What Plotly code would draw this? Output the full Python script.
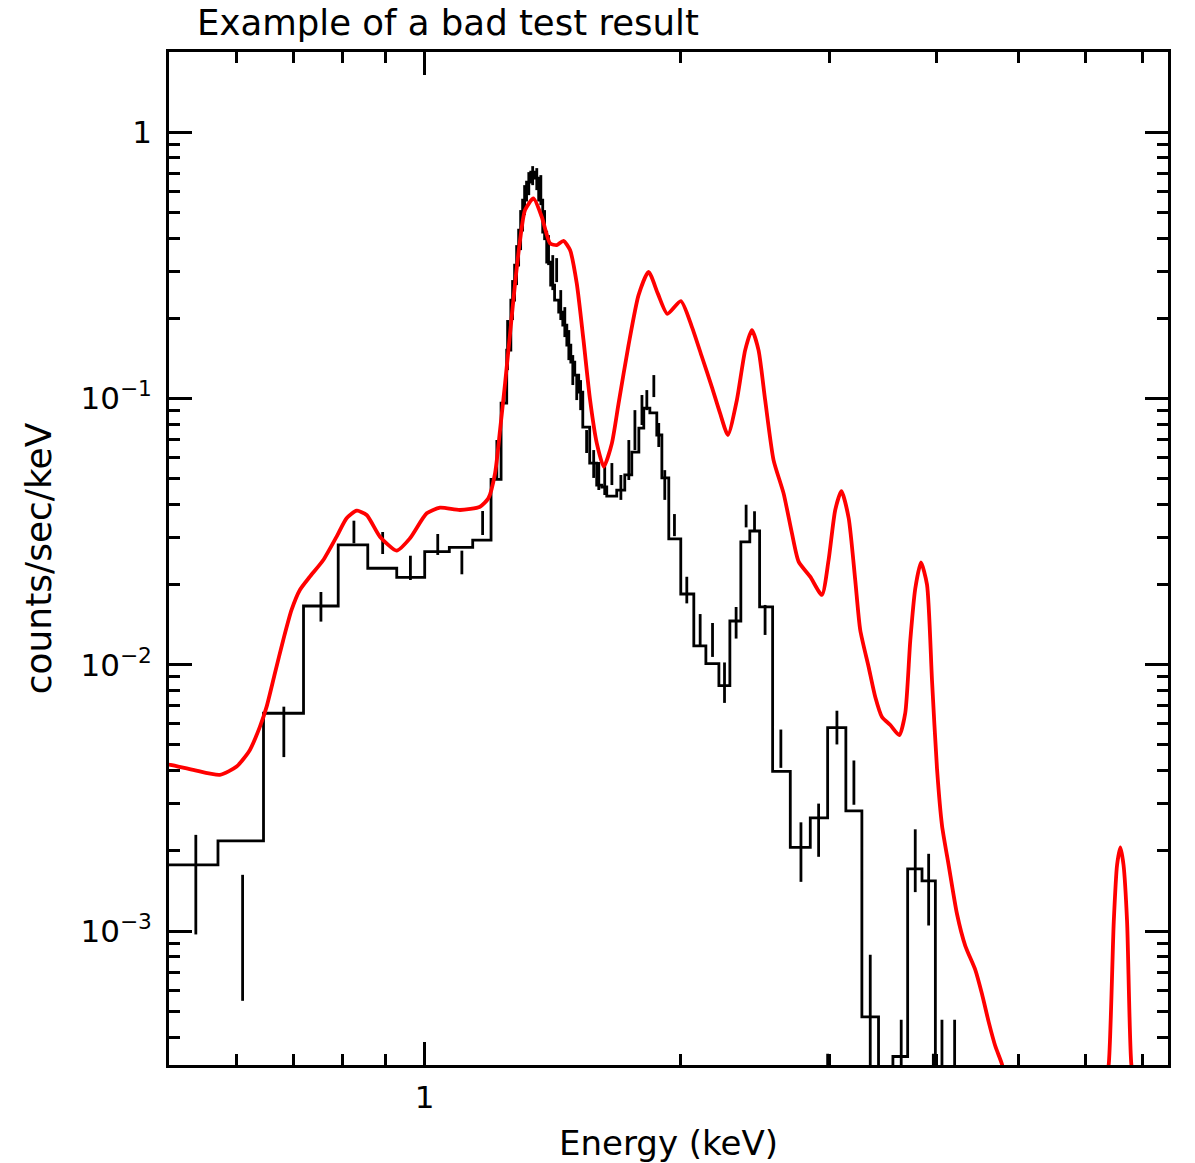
import math
import plotly.graph_objects as go

# ---------------- data ----------------
# Observed spectrum: histogram bin edges (keV) and rates (counts/sec/keV)
bin_edges = [0.49, 0.571, 0.646, 0.720, 0.791, 0.857, 0.927, 1.000, 1.069, 1.139,
             1.197, 1.230, 1.249, 1.263, 1.276, 1.290, 1.304, 1.318, 1.333, 1.348,
             1.362, 1.377, 1.392, 1.407, 1.422, 1.438, 1.454, 1.470, 1.486, 1.502,
             1.518, 1.535, 1.564, 1.594, 1.616, 1.638, 1.683, 1.720, 1.753, 1.787,
             1.811, 1.841, 1.876, 1.902, 1.938, 2.002, 2.074, 2.143, 2.220, 2.287,
             2.356, 2.414, 2.479, 2.568, 2.694, 2.844, 2.981, 3.132, 3.271, 3.422,
             3.558, 3.703, 3.850, 3.992, 8.0]
bin_rates = [1.772e-3, 2.181e-3, 6.575e-3, 1.662e-2, 2.817e-2, 2.303e-2, 2.130e-2, 2.658e-2, 2.761e-2,
             2.940e-2, 4.97e-2, 9.61e-2, 0.1519, 0.2341, 0.3168, 0.4286, 0.5555, 0.6493, 0.7078,
             0.6721, 0.5555, 0.4212, 0.3251, 0.2665, 0.2341, 0.2110, 0.1886, 0.1586, 0.1370,
             0.1224, 0.1057, 0.0781, 0.0572, 0.0473, 0.0465, 0.0430, 0.0453, 0.0516, 0.0629,
             0.0774, 0.0920, 0.0882, 0.0729, 0.0503, 0.02967, 0.01844, 0.01177, 0.01010, 0.00835,
             0.01460, 0.02895, 0.03179, 0.01648, 0.003976, 0.002062, 0.002660, 0.00581, 0.002826,
             0.000476, 1e-5, 0.000338, 0.001712, 0.001543, 1e-5]

# Error bars: energy, upper and lower rate
err_energy = [0.5377, 0.6104, 0.6826, 0.7548, 0.8254, 0.8923, 0.9620, 1.036, 1.106, 1.170,
              1.216, 1.252, 1.269, 1.283, 1.297, 1.311, 1.326, 1.340, 1.355, 1.370,
              1.384, 1.399, 1.415, 1.430, 1.446, 1.462, 1.478, 1.494, 1.510, 1.526,
              1.551, 1.581, 1.603, 1.629, 1.661, 1.702, 1.739, 1.768, 1.802, 1.826,
              1.861, 1.886, 1.917, 1.968, 2.035, 2.110, 2.182, 2.254, 2.326, 2.390,
              2.445, 2.516, 2.626, 2.773, 2.909, 2.981, 3.057, 3.201, 3.346, 3.639,
              3.780, 3.920, 3.970, 4.064, 4.206]
err_high = [2.297e-3, 1.626e-3, 6.96e-3, 1.876e-2, 3.475e-2, 3.151e-2, 2.567e-2, 3.097e-2, 2.682e-2, 3.778e-2,
            6.98e-2, 0.1970, 0.2783, 0.3765, 0.5097, 0.6325, 0.7078, 0.7455, 0.7327, 0.6897,
            0.5097, 0.4106, 0.3453, 0.3365, 0.2552, 0.2203, 0.1806, 0.1455, 0.1224, 0.1172,
            0.0761, 0.0640, 0.0577, 0.0562, 0.0572, 0.0516, 0.0698, 0.0904, 0.1030, 0.1075,
            0.1224, 0.0809, 0.0538, 0.0368, 0.0214, 0.0155, 0.01435, 0.01020, 0.01648, 0.0399,
            0.0377, 0.01677, 0.00571, 0.00256, 0.00301, 0.000346, 0.00672, 0.00437, 0.000814, 0.000464,
            0.00241, 0.00195, 0.000346, 0.000464, 0.000464]
err_low = [9.71e-4, 5.47e-4, 4.50e-3, 1.452e-2, 2.858e-2, 2.605e-2, 2.081e-2, 2.584e-2, 2.186e-2, 3.070e-2,
           4.98e-2, 0.1278, 0.1970, 0.2665, 0.3606, 0.4882, 0.5800, 0.6325, 0.6058, 0.5321,
           0.3931, 0.3168, 0.2552, 0.2735, 0.1970, 0.1700, 0.1393, 0.1123, 0.0986, 0.0904,
           0.0624, 0.0503, 0.0453, 0.0434, 0.0473, 0.0416, 0.0494, 0.0640, 0.0795, 0.0904,
           0.1012, 0.0657, 0.0416, 0.0304, 0.0170, 0.01177, 0.01070, 0.00719, 0.01254, 0.0328,
           0.0317, 0.01294, 0.00410, 0.00153, 0.00190, 1e-5, 0.00502, 0.00298, 1e-5, 1e-5,
           0.00140, 0.001049, 1e-5, 1e-5, 1e-5]

# Model curve (red)
model_energy = [0.49, 0.502, 0.534, 0.5739, 0.6006, 0.6226, 0.6398, 0.6515, 0.6663, 0.6815,
                0.6970, 0.7129, 0.7325, 0.7597, 0.7876, 0.8092, 0.8316, 0.8544, 0.8857, 0.9269,
                0.9609, 1.0055, 1.0424, 1.1005, 1.1618, 1.1885, 1.2101, 1.2266, 1.2434, 1.2604,
                1.2776, 1.2949, 1.3126, 1.3428, 1.3734, 1.4047, 1.4305, 1.4567, 1.4829, 1.5101,
                1.5379, 1.5657, 1.5945, 1.6249, 1.6609, 1.6914, 1.7377, 1.7855, 1.8346, 1.8814,
                1.9304, 2.0023, 2.0632, 2.1199, 2.1777, 2.2274, 2.2746, 2.3308, 2.3839, 2.4276,
                2.4717, 2.5165, 2.5745, 2.6455, 2.7059, 2.7555, 2.8432, 2.9350, 2.9888, 3.0430,
                3.0946, 3.1557, 3.2124, 3.2564, 3.3315, 3.3918, 3.4540, 3.5329, 3.6201, 3.6791,
                3.7294, 3.7804, 3.8393, 3.9026, 3.9561, 4.0101, 4.0644, 4.1393, 4.2325, 4.3292,
                4.4484, 4.5299, 4.6132, 4.6958, 4.7820, 4.8339, None,
                6.3226, 6.3870, 6.4745, 6.533, 6.5917, 6.648, 6.7127, 6.7905, 6.8593]
model_rate = [4.25e-3, 4.206e-3, 4.028e-3, 3.858e-3, 4.145e-3, 4.788e-3, 5.855e-3, 6.963e-3, 9.292e-3, 1.239e-2,
              1.606e-2, 1.909e-2, 2.141e-2, 2.473e-2, 3.027e-2, 3.548e-2, 3.788e-2, 3.650e-2, 3.027e-2, 2.682e-2,
              2.985e-2, 3.704e-2, 3.888e-2, 3.812e-2, 3.922e-2, 4.217e-2, 5.234e-2, 7.608e-2, 0.1139, 0.1756,
              0.2704, 0.3931, 0.5097, 0.5638, 0.4810, 0.3822, 0.3765, 0.3908, 0.3606, 0.2704,
              0.1657, 0.0986, 0.0678, 0.0554, 0.0678, 0.0958, 0.1586, 0.2444, 0.2989, 0.2475,
              0.2079, 0.2320, 0.1858, 0.1434, 0.1106, 0.0879, 0.0729, 0.0986, 0.1519, 0.1806,
              0.1519, 0.0986, 0.0587, 0.0440, 0.0312, 0.0244, 0.02141, 0.01828, 0.02473, 0.03812,
              0.0449, 0.03557, 0.02081, 0.01351, 0.00981, 0.00757, 0.00637, 0.00594, 0.00544, 0.00659,
              0.01231, 0.01932, 0.02421, 0.02000, 0.00869, 0.004052, 0.002493, 0.001761, 0.001161, 0.000880,
              0.000715, 0.000580, 0.000455, 0.000370, 0.000316, 0.000265, None,
              0.000265, 0.000316, 0.001083, 0.001772, 0.002060, 0.001772, 0.001083, 0.000316, 0.000265]

x_major_ticks = [1]
x_major_labels = ["1"]
x_minor_ticks = [0.6, 0.7, 0.8, 0.9, 2, 3, 4, 5, 6, 7]
y_major_ticks = [1, 0.1, 0.01, 0.001]
y_major_labels = ["1", "10<sup>\u22121</sup>", "10<sup>\u22122</sup>", "10<sup>\u22123</sup>"]
y_minor_ticks = [m * 10.0 ** d for d in (-4, -3, -2, -1) for m in range(2, 10) if m * 10.0 ** d > 3.2e-4]

assert len(bin_edges) == len(bin_rates) + 1
assert len(err_energy) == len(err_high) == len(err_low)
assert len(model_energy) == len(model_rate)

# ---------------- figure ----------------
FONT = "DejaVu Sans"

step_x = list(bin_edges)
step_y = list(bin_rates) + [bin_rates[-1]]

ex, ey = [], []
for e, hi, lo in zip(err_energy, err_high, err_low):
    ex += [e, e, None]
    ey += [lo, hi, None]

fig = go.Figure()
fig.add_trace(go.Scatter(x=step_x, y=step_y, mode="lines", line=dict(color="black", width=2.8, shape="hv"),
                         showlegend=False, hoverinfo="skip"))
fig.add_trace(go.Scatter(x=ex, y=ey, mode="lines", line=dict(color="black", width=2.8),
                         showlegend=False, hoverinfo="skip", connectgaps=False))
fig.add_trace(go.Scatter(x=model_energy, y=model_rate, mode="lines",
                         line=dict(color="#ff0000", width=3.8, shape="spline", smoothing=0.6),
                         showlegend=False, connectgaps=False))

axis_common = dict(
    type="log", showgrid=False, zeroline=False, showline=True, linecolor="black", linewidth=2.8,
    mirror="ticks", ticks="inside", ticklen=23, tickwidth=2.5, tickcolor="black",
    tickfont=dict(family=FONT, size=31, color="black"), automargin=False,
)

fig.update_layout(
    width=1195, height=1163,
    margin=dict(l=169, r=27, t=52, b=98),
    paper_bgcolor="white", plot_bgcolor="white",
    title=dict(text="Example of a bad test result", x=(197 - 169) / 999, xref="paper", xanchor="left",
               y=1 - 23 / 1163, yref="container", yanchor="middle",
               font=dict(family=FONT, size=35.5, color="black")),
    xaxis=dict(axis_common, range=[math.log10(0.5), math.log10(7.5)],
               tickvals=x_major_ticks, ticktext=x_major_labels, ticklabelstandoff=3,
               minor=dict(tickvals=x_minor_ticks, ticks="inside", ticklen=11, tickwidth=2.5,
                          tickcolor="black", showgrid=False),
               title=dict(text="Energy (keV)", font=dict(family=FONT, size=34, color="black"), standoff=20)),
    yaxis=dict(axis_common, range=[math.log10(3.14e-4), math.log10(2.0)],
               tickvals=y_major_ticks, ticktext=y_major_labels, ticklabelstandoff=8,
               minor=dict(tickvals=y_minor_ticks, ticks="inside", ticklen=11, tickwidth=2.5,
                          tickcolor="black", showgrid=False),
               title=dict(text="counts/sec/keV", font=dict(family=FONT, size=36, color="black"), standoff=18)),
)

fig.write_html("out.html")
